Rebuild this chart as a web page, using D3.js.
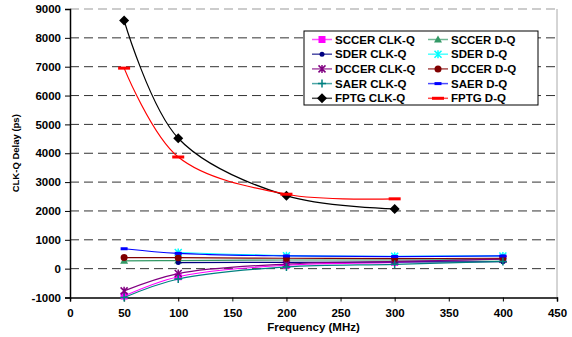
<!DOCTYPE html>
<html>
<head>
<meta charset="utf-8">
<script src="https://cdn.jsdelivr.net/npm/d3@7"></script>
<style>
  body { margin: 0; background: white; }
  text { font-family: Arial, "Liberation Sans", sans-serif; font-weight: bold; }
</style>
</head>
<body>
<div id="figure"></div>
<script>
// data
const freqs = [50, 100, 200, 300, 400]
const sderFreqs = [100, 200, 300, 400]
const fptgFreqs = [50, 100, 200, 300]

const sccerClkQ = [-950, -280, 120, 220, 350]
const sccerDQ = [270, 280, 300, 300, 310]
const sderClkQ = [210, 220, 230, 240]
const sderDQ = [560, 450, 430, 440]
const dccerClkQ = [-770, -170, 160, 250, 330]
const dccerDQ = [385, 380, 360, 350, 360]
const saerClkQ = [-1000, -360, 60, 150, 250]
const saerDQ = [690, 530, 440, 420, 440]
const fptgClkQ = [8600, 4520, 2530, 2070]
const fptgDQ = [6950, 3870, 2580, 2420]

const xTicks = [0, 50, 100, 150, 200, 250, 300, 350, 400, 450]
const yTicks = [-1000, 0, 1000, 2000, 3000, 4000, 5000, 6000, 7000, 8000, 9000]

const series = [
  { name: 'SCCER CLK-Q', x: freqs, y: sccerClkQ, color: '#ff00ff', marker: 'square' },
  { name: 'SCCER D-Q', x: freqs, y: sccerDQ, color: '#339966', marker: 'triangle' },
  { name: 'SDER CLK-Q', x: sderFreqs, y: sderClkQ, color: '#000080', marker: 'dot' },
  { name: 'SDER D-Q', x: sderFreqs, y: sderDQ, color: '#00ffff', marker: 'star' },
  { name: 'DCCER CLK-Q', x: freqs, y: dccerClkQ, color: '#800080', marker: 'star' },
  { name: 'DCCER D-Q', x: freqs, y: dccerDQ, color: '#800000', marker: 'circle' },
  { name: 'SAER CLK-Q', x: freqs, y: saerClkQ, color: '#008080', marker: 'plus' },
  { name: 'SAER D-Q', x: freqs, y: saerDQ, color: '#0000ff', marker: 'dash' },
  { name: 'FPTG CLK-Q', x: fptgFreqs, y: fptgClkQ, color: '#000000', marker: 'diamond' },
  { name: 'FPTG D-Q', x: fptgFreqs, y: fptgDQ, color: '#ff0000', marker: 'bigdash' }
]

const width = 572
const height = 337
const margin = { TOP: 9, LEFT: 70, RIGHT: 15, BOTTOM: 39.5 }

const svg = d3.select('#figure').append('svg')
  .attr('width', width).attr('height', height)
  .attr('style', 'background:white')

const x = d3.scaleLinear().domain([0, 450]).range([margin.LEFT, width - margin.RIGHT])
const y = d3.scaleLinear().domain([-1000, 9000]).range([height - margin.BOTTOM, margin.TOP])

/**
 * grid lines + plot border
 */
const grid = svg.append('g')
grid.selectAll('line').data(yTicks.filter(d => d > -1000)).enter().append('line')
  .attr('x1', x(0)).attr('x2', x(450))
  .attr('y1', d => y(d)).attr('y2', d => y(d))
  .attr('stroke', d => d === 9000 ? '#999' : '#333')
  .attr('stroke-dasharray', '9,5')

svg.append('line')
  .attr('x1', x(450)).attr('x2', x(450)).attr('y1', y(9000)).attr('y2', y(-1000))
  .attr('stroke', '#aaa')

/**
 * axes
 */
const axisLeft = d3.axisLeft(y).tickValues(yTicks).tickSize(5).tickPadding(4).tickFormat(d => String(d))
const gy = svg.append('g').attr('transform', `translate(${x(0)},0)`).call(axisLeft)
const axisBottom = d3.axisBottom(x).tickValues(xTicks).tickSize(4).tickPadding(7).tickFormat(d => String(d))
const gx = svg.append('g').attr('transform', `translate(0,${y(-1000)})`).call(axisBottom)

for (const g of [gx, gy]) {
  g.select('.domain').attr('stroke', '#000').attr('stroke-width', 1.5)
  g.selectAll('.tick line').attr('stroke', '#000')
  g.selectAll('text').attr('font-size', 11.5).attr('fill', '#000')
    .attr('font-family', 'Arial, "Liberation Sans", sans-serif').attr('font-weight', 'bold')
}

svg.append('text').text('Frequency (MHz)')
  .attr('x', x(225)).attr('y', 331).attr('text-anchor', 'middle').attr('font-size', 11.5)

svg.append('text').text('CLK-Q Delay (ps)')
  .attr('transform', `translate(19,${(y(9000) + y(-1000)) / 2}) rotate(-90)`)
  .attr('text-anchor', 'middle').attr('font-size', 9.5)

/**
 * marker drawing
 */
function drawMarker(g, type, cx, cy, color) {
  const m = g.append('g').attr('transform', `translate(${cx},${cy})`)
  if (type === 'square') {
    m.append('rect').attr('x', -3.5).attr('y', -3.5).attr('width', 7).attr('height', 7).attr('fill', color)
  } else if (type === 'triangle') {
    m.append('path').attr('d', 'M0,-4L4,3L-4,3Z').attr('fill', color)
  } else if (type === 'dot') {
    m.append('circle').attr('r', 2.5).attr('fill', color)
  } else if (type === 'circle') {
    m.append('circle').attr('r', 3.5).attr('fill', color)
  } else if (type === 'star') {
    m.append('path').attr('d', 'M-3.5,-3.5L3.5,3.5M-3.5,3.5L3.5,-3.5M0,-4L0,4')
      .attr('stroke', color).attr('stroke-width', 1.5)
  } else if (type === 'plus') {
    m.append('path').attr('d', 'M-4,0L4,0M0,-4L0,4').attr('stroke', color).attr('stroke-width', 1.5)
  } else if (type === 'dash') {
    m.append('rect').attr('x', -3.5).attr('y', -1.5).attr('width', 7).attr('height', 3).attr('fill', color)
  } else if (type === 'bigdash') {
    m.append('rect').attr('x', -6).attr('y', -1.5).attr('width', 12).attr('height', 3).attr('fill', color)
  } else if (type === 'diamond') {
    m.append('path').attr('d', 'M0,-5L5,0L0,5L-5,0Z').attr('fill', color)
  }
}

/**
 * series lines
 */
const line = d3.line().curve(d3.curveCatmullRom.alpha(0.5))
  .x(d => x(d[0])).y(d => y(d[1]))

const plot = svg.append('g')
series.forEach(s => {
  const pts = s.x.map((f, i) => [f, s.y[i]])
  const g = plot.append('g')
  g.append('path').attr('d', line(pts)).attr('fill', 'none')
    .attr('stroke', s.color).attr('stroke-width', 1.2)
  pts.forEach(p => drawMarker(g, s.marker, x(p[0]), y(p[1]), s.color))
})

/**
 * legend
 */
const legend = svg.append('g').attr('transform', 'translate(304,31)')
legend.append('rect').attr('width', 234).attr('height', 74)
  .attr('fill', 'white').attr('stroke', '#000').attr('stroke-width', 1)

series.forEach((s, i) => {
  const col = i % 2
  const row = Math.floor(i / 2)
  const lx = 8 + col * 116
  const ly = 8.5 + row * 14.7
  const item = legend.append('g')
  item.append('line').attr('x1', lx).attr('x2', lx + 20).attr('y1', ly).attr('y2', ly)
    .attr('stroke', s.color).attr('stroke-width', 1.5).attr('stroke-opacity', 0.7)
  drawMarker(item, s.marker, lx + 10, ly, s.color)
  item.append('text').text(s.name).attr('x', lx + 23).attr('y', ly + 4).attr('font-size', 11.5)
})
</script>
</body>
</html>
